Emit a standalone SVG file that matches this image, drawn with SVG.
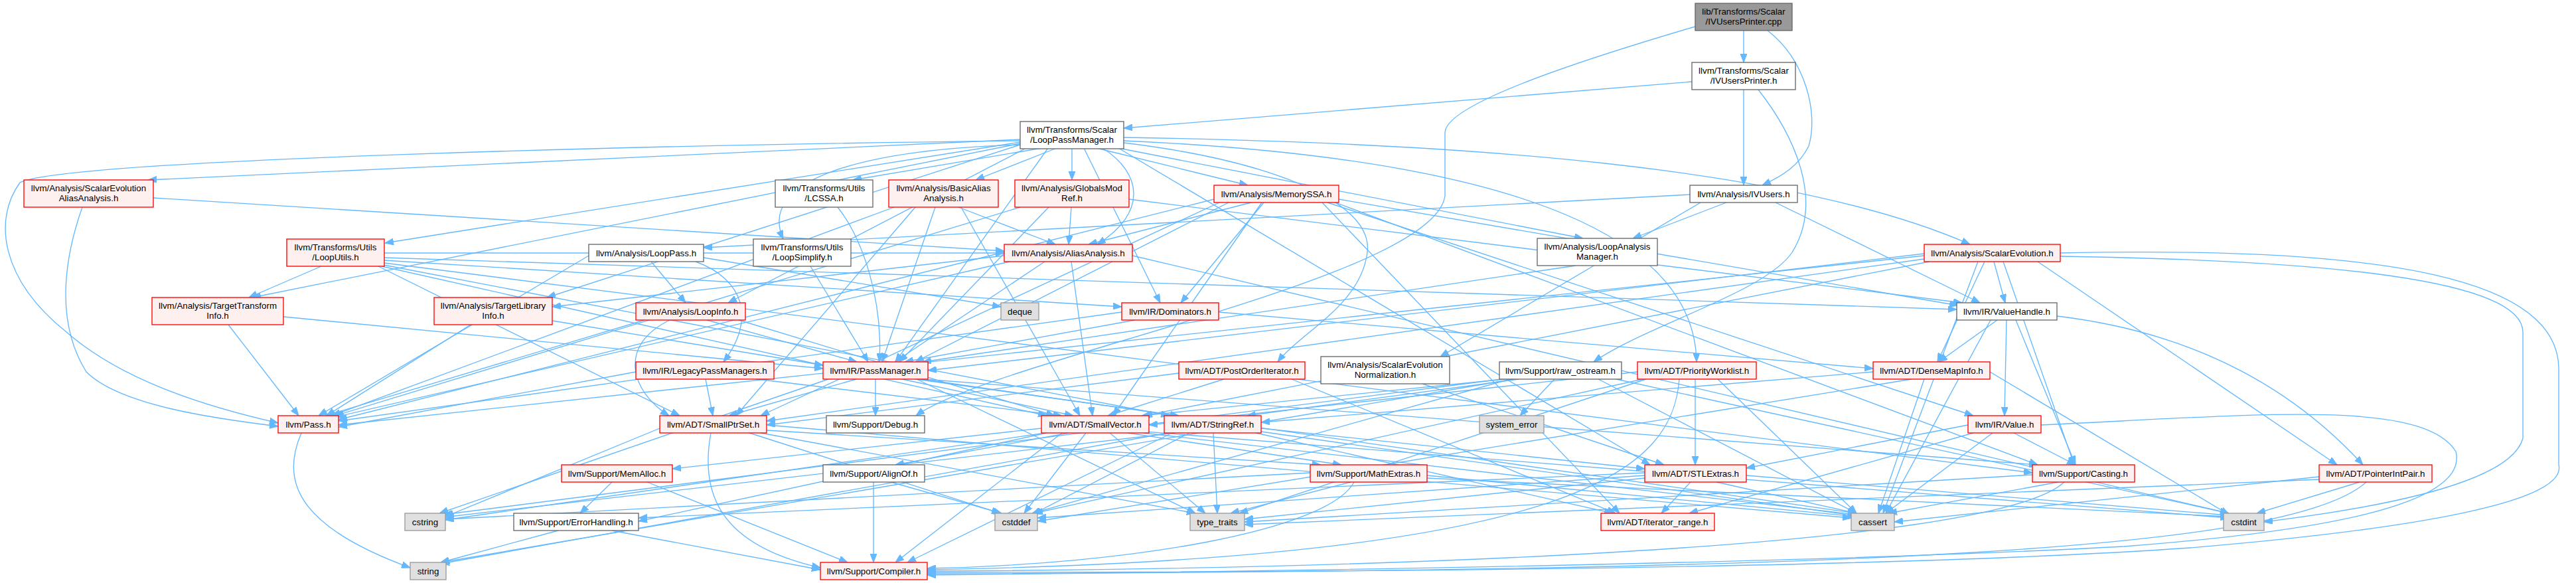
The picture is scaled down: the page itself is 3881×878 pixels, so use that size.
<svg xmlns="http://www.w3.org/2000/svg" width="3881" height="878" viewBox="0 0 3881 878">
<defs>
<style>
.e path{fill:none;stroke:#63b8ff;stroke-width:1.33;marker-end:url(#a)}
.w{fill:#ffffff;stroke:#666666;stroke-width:1.33}
.r{fill:#fff0f0;stroke:#ff0000;stroke-width:1.33}
.g{fill:#e0e0e0;stroke:#999999;stroke-width:1.33}
.root{fill:#999999;stroke:#666666;stroke-width:1.33}
text{font-family:"Liberation Sans",Arial,Helvetica,sans-serif;font-size:13.33px;text-anchor:middle;fill:#000000}
</style>
<marker id="a" markerUnits="userSpaceOnUse" markerWidth="13" markerHeight="10" refX="13" refY="5" orient="auto" viewBox="0 0 13 10"><path d="M0,0 L13,5 L0,10 z" fill="#63b8ff" stroke="#63b8ff"/></marker>
</defs>
<rect x="0" y="0" width="3881" height="878" fill="#ffffff"/>
<g id="edges" class="e">
<path d="M2627,46 L2627,94"/>
<path d="M2663,46 C2720,90 2740,170 2725,220 C2710,250 2685,265 2655,279"/>
<path d="M2554,40 C2350,100 2177,160 2177,200 L2177,295 C2160,420 1500,540 1380,626"/>
<path d="M2549,123 L1693,193"/>
<path d="M2627,135 L2627,279"/>
<path d="M2649,135 C2700,200 2750,300 2700,380 C2660,440 2480,490 2401,545"/>
<path d="M1537,210 L223,271"/>
<path d="M1570,223 L1285,271"/>
<path d="M1592,223 L1470,271"/>
<path d="M1615,223 L1615,271"/>
<path d="M1652,223 L1880,279"/>
<path d="M1685,223 L2385,359"/>
<path d="M1693,207 C2200,215 2700,250 2968,368"/>
<path d="M1661,223 C1720,260 1730,320 1653,368"/>
<path d="M1537,218 C1300,225 1140,270 1180,360"/>
<path d="M1537,214 L580,366"/>
<path d="M1537,216 L380,448"/>
<path d="M1537,218 L824,448"/>
<path d="M1546,223 L1097,456"/>
<path d="M1633,223 L1748,456"/>
<path d="M1579,223 L1349,545"/>
<path d="M1693,215 C1900,240 2070,300 2060,380 C2050,460 1960,500 1925,545"/>
<path d="M1693,212 C2100,230 2552,300 2556,545"/>
<path d="M1685,223 L2486,700"/>
<path d="M1537,212 C1000,218 100,240 30,275 C-10,330 0,420 100,500 C180,570 300,610 419,637"/>
<path d="M2601,305 L2460,359"/>
<path d="M2546,293 L1060,373"/>
<path d="M2562,305 L2170,537"/>
<path d="M2675,305 L2983,456"/>
<path d="M231,298 L1513,378"/>
<path d="M124,312 C100,380 80,480 130,560 C180,610 320,630 419,642"/>
<path d="M1262,312 C1300,360 1330,450 1325,545"/>
<path d="M1444,312 L1590,368"/>
<path d="M1347,312 L500,626"/>
<path d="M1409,312 L1329,545"/>
<path d="M1379,312 L1109,626"/>
<path d="M1448,312 L1627,626"/>
<path d="M1614,312 L1610,368"/>
<path d="M1537,312 L505,626"/>
<path d="M1580,312 L1355,545"/>
<path d="M1701,300 L2956,456"/>
<path d="M1885,305 L1640,368"/>
<path d="M1829,300 L510,632"/>
<path d="M1851,305 L1379,545"/>
<path d="M1904,305 L1779,456"/>
<path d="M2017,300 L2950,460"/>
<path d="M1837,305 L1146,626"/>
<path d="M1901,305 L1677,626"/>
<path d="M1992,305 L2440,773"/>
<path d="M2000,305 L2973,626"/>
<path d="M2012,305 L3070,700"/>
<path d="M2374,400 L1390,545"/>
<path d="M2899,385 L510,640"/>
<path d="M2899,382 L1398,558"/>
<path d="M3004,394 L3021,456"/>
<path d="M2990,394 L2919,545"/>
<path d="M3070,394 L3521,700"/>
<path d="M2899,390 L1155,634"/>
<path d="M2907,394 L1723,626"/>
<path d="M3018,394 L3125,700"/>
<path d="M3104,381 C3600,370 3860,420 3855,560 L3855,700 C3870,760 3600,800 3300,825 C2800,860 1800,862 1397,862"/>
<path d="M2980,394 L2837,773"/>
<path d="M3104,386 C3500,392 3800,420 3801,500 L3801,660 C3780,740 3500,775 3411,786"/>
<path d="M1513,385 L832,462"/>
<path d="M1574,394 L1348,545"/>
<path d="M1521,394 L505,628"/>
<path d="M1614,394 L1646,626"/>
<path d="M1706,385 L3358,773"/>
<path d="M981,394 L1033,456"/>
<path d="M1048,394 C1120,420 1140,480 1090,545"/>
<path d="M887,385 L480,626"/>
<path d="M1060,388 L1508,462"/>
<path d="M1221,401 L1308,545"/>
<path d="M484,401 L375,448"/>
<path d="M579,392 L1690,462"/>
<path d="M579,388 L2948,466"/>
<path d="M579,381 L1513,381"/>
<path d="M570,401 L1024,626"/>
<path d="M575,401 L1577,626"/>
<path d="M578,399 L1762,626"/>
<path d="M579,396 L3062,712"/>
<path d="M344,489 L450,626"/>
<path d="M427,477 L1240,555"/>
<path d="M709,489 L492,626"/>
<path d="M832,483 L1240,550"/>
<path d="M1009,482 C930,520 950,590 1008,626"/>
<path d="M1113,482 L1589,626"/>
<path d="M1065,482 L1291,545"/>
<path d="M971,482 L490,626"/>
<path d="M1690,470 L510,634"/>
<path d="M1710,482 L1363,545"/>
<path d="M1836,470 L2822,555"/>
<path d="M3009,482 L2921,545"/>
<path d="M3099,476 C3300,500 3450,580 3560,700"/>
<path d="M3023,482 L3020,626"/>
<path d="M3037,482 L3127,700"/>
<path d="M2999,482 L2841,773"/>
<path d="M958,560 L510,643"/>
<path d="M1063,571 L1074,626"/>
<path d="M1140,571 L1600,626"/>
<path d="M1290,571 L1098,626"/>
<path d="M1319,571 L1319,626"/>
<path d="M1359,571 L1617,626"/>
<path d="M1380,571 L1776,626"/>
<path d="M1392,571 L3070,700"/>
<path d="M1388,571 L2797,773"/>
<path d="M1248,571 L662,773"/>
<path d="M1381,571 L1801,773"/>
<path d="M1776,562 L1155,640"/>
<path d="M1844,571 L1669,626"/>
<path d="M1946,571 L2434,773"/>
<path d="M2143,578 L2507,700"/>
<path d="M2267,571 L1720,626"/>
<path d="M2288,571 L1879,626"/>
<path d="M2342,571 L2290,626"/>
<path d="M2408,571 L2797,773"/>
<path d="M2275,571 L1555,773"/>
<path d="M2435,571 L3358,773"/>
<path d="M2262,571 L668,775"/>
<path d="M2280,571 L664,847"/>
<path d="M2554,571 L2554,700"/>
<path d="M2467,560 L1731,640"/>
<path d="M2530,571 C2520,700 2400,840 1397,858"/>
<path d="M2588,571 L2797,773"/>
<path d="M2475,571 L1558,773"/>
<path d="M2480,571 L1867,773"/>
<path d="M2822,560 L1900,636"/>
<path d="M2899,571 L2830,773"/>
<path d="M2880,571 L1563,785"/>
<path d="M2998,560 L3358,775"/>
<path d="M1071,652 C1055,740 1080,820 1236,855"/>
<path d="M1146,652 L1801,773"/>
<path d="M1155,640 L2789,780"/>
<path d="M1129,652 L1507,773"/>
<path d="M994,645 L671,778"/>
<path d="M1155,648 L1990,700"/>
<path d="M1569,645 L1013,706"/>
<path d="M1610,652 L1349,700"/>
<path d="M1699,652 L2021,700"/>
<path d="M1577,652 L962,785"/>
<path d="M1600,652 L1349,847"/>
<path d="M1672,652 L1816,773"/>
<path d="M1723,652 L2797,775"/>
<path d="M1636,652 L1543,773"/>
<path d="M1575,652 L671,783"/>
<path d="M1725,650 L3358,780"/>
<path d="M1900,645 L2478,706"/>
<path d="M1892,652 L2430,773"/>
<path d="M1766,652 L1367,847"/>
<path d="M1900,650 L2797,777"/>
<path d="M1792,652 L1555,775"/>
<path d="M1770,652 L668,779"/>
<path d="M1760,652 L664,849"/>
<path d="M1828,652 L1834,773"/>
<path d="M2965,640 L2631,705"/>
<path d="M2973,652 L2545,773"/>
<path d="M3002,652 L2841,773"/>
<path d="M3034,652 L3127,700"/>
<path d="M3075,640 C3400,625 3650,600 3700,680 C3720,760 3500,800 3200,823 C2700,850 1800,862 1397,866"/>
<path d="M922,726 L874,773"/>
<path d="M975,726 L1277,847"/>
<path d="M1316,726 L1316,847"/>
<path d="M1342,726 L1509,773"/>
<path d="M2040,726 C2000,800 1700,850 1397,856"/>
<path d="M2150,716 L2797,778"/>
<path d="M2150,720 L3358,778"/>
<path d="M1974,712 L671,782"/>
<path d="M2035,726 L1854,773"/>
<path d="M2547,726 L2503,773"/>
<path d="M2478,712 L962,780"/>
<path d="M2586,726 L2797,773"/>
<path d="M2478,716 L1563,780"/>
<path d="M2631,716 L3358,776"/>
<path d="M2478,720 L1875,782"/>
<path d="M3110,726 C3000,830 2000,858 1397,860"/>
<path d="M3101,726 L2845,773"/>
<path d="M3062,715 L1875,786"/>
<path d="M3565,726 C3450,830 2800,860 1397,864"/>
<path d="M3494,718 L2854,786"/>
<path d="M3555,726 L3400,773"/>
<path d="M3494,722 L1875,790"/>
<path d="M922,799 L1236,858"/>
<path d="M841,799 L664,847"/>
<path d="M454,652 C425,720 440,790 618,855"/>
</g>
<g id="n-cpp"><rect class="root" x="2554" y="5" width="146" height="41"/><text x="2627" y="21.5">lib/Transforms/Scalar</text><text x="2627" y="36.5">/IVUsersPrinter.cpp</text></g>
<g id="n-ivph"><rect class="w" x="2549" y="94" width="156" height="41"/><text x="2627" y="110.5">llvm/Transforms/Scalar</text><text x="2627" y="125.5">/IVUsersPrinter.h</text></g>
<g id="n-lpm"><rect class="w" x="1537" y="183" width="156" height="41"/><text x="1615" y="199.5">llvm/Transforms/Scalar</text><text x="1615" y="214.5">/LoopPassManager.h</text></g>
<g id="n-ivusers"><rect class="w" x="2546" y="279" width="162" height="26"/><text x="2627" y="296.5">llvm/Analysis/IVUsers.h</text></g>
<g id="n-seaa"><rect class="r" x="36" y="271" width="195" height="41"/><text x="133.5" y="287.5">llvm/Analysis/ScalarEvolution</text><text x="133.5" y="302.5">AliasAnalysis.h</text></g>
<g id="n-lcssa"><rect class="w" x="1168" y="271" width="147" height="41"/><text x="1241.5" y="287.5">llvm/Transforms/Utils</text><text x="1241.5" y="302.5">/LCSSA.h</text></g>
<g id="n-basicaa"><rect class="r" x="1339" y="271" width="165" height="41"/><text x="1421.5" y="287.5">llvm/Analysis/BasicAlias</text><text x="1421.5" y="302.5">Analysis.h</text></g>
<g id="n-gmr"><rect class="r" x="1529" y="271" width="172" height="41"/><text x="1615" y="287.5">llvm/Analysis/GlobalsMod</text><text x="1615" y="302.5">Ref.h</text></g>
<g id="n-memssa"><rect class="r" x="1829" y="279" width="188" height="26"/><text x="1923" y="296.5">llvm/Analysis/MemorySSA.h</text></g>
<g id="n-lam"><rect class="w" x="2316" y="359" width="181" height="41"/><text x="2406.5" y="375.5">llvm/Analysis/LoopAnalysis</text><text x="2406.5" y="390.5">Manager.h</text></g>
<g id="n-se"><rect class="r" x="2899" y="368" width="205" height="26"/><text x="3001.5" y="385.5">llvm/Analysis/ScalarEvolution.h</text></g>
<g id="n-aa"><rect class="r" x="1513" y="368" width="193" height="26"/><text x="1609.5" y="385.5">llvm/Analysis/AliasAnalysis.h</text></g>
<g id="n-looppass"><rect class="w" x="887" y="368" width="173" height="26"/><text x="973.5" y="385.5">llvm/Analysis/LoopPass.h</text></g>
<g id="n-loopsimplify"><rect class="w" x="1135" y="360" width="147" height="41"/><text x="1208.5" y="376.5">llvm/Transforms/Utils</text><text x="1208.5" y="391.5">/LoopSimplify.h</text></g>
<g id="n-looputils"><rect class="r" x="432" y="360" width="147" height="41"/><text x="505.5" y="376.5">llvm/Transforms/Utils</text><text x="505.5" y="391.5">/LoopUtils.h</text></g>
<g id="n-tti"><rect class="r" x="229" y="448" width="198" height="41"/><text x="328" y="464.5">llvm/Analysis/TargetTransform</text><text x="328" y="479.5">Info.h</text></g>
<g id="n-tli"><rect class="r" x="654" y="448" width="178" height="41"/><text x="743" y="464.5">llvm/Analysis/TargetLibrary</text><text x="743" y="479.5">Info.h</text></g>
<g id="n-loopinfo"><rect class="r" x="958" y="456" width="165" height="26"/><text x="1040.5" y="473.5">llvm/Analysis/LoopInfo.h</text></g>
<g id="n-deque"><rect class="g" x="1508" y="456" width="57" height="26"/><text x="1536.5" y="473.5">deque</text></g>
<g id="n-dom"><rect class="r" x="1690" y="456" width="146" height="26"/><text x="1763" y="473.5">llvm/IR/Dominators.h</text></g>
<g id="n-vh"><rect class="w" x="2948" y="456" width="151" height="26"/><text x="3023.5" y="473.5">llvm/IR/ValueHandle.h</text></g>
<g id="n-legacy"><rect class="r" x="958" y="545" width="208" height="26"/><text x="1062" y="562.5">llvm/IR/LegacyPassManagers.h</text></g>
<g id="n-pm"><rect class="r" x="1240" y="545" width="158" height="26"/><text x="1319" y="562.5">llvm/IR/PassManager.h</text></g>
<g id="n-poi"><rect class="r" x="1776" y="545" width="190" height="26"/><text x="1871" y="562.5">llvm/ADT/PostOrderIterator.h</text></g>
<g id="n-sen"><rect class="w" x="1990" y="537" width="194" height="41"/><text x="2087" y="553.5">llvm/Analysis/ScalarEvolution</text><text x="2087" y="568.5">Normalization.h</text></g>
<g id="n-ros"><rect class="w" x="2259" y="545" width="184" height="26"/><text x="2351" y="562.5">llvm/Support/raw_ostream.h</text></g>
<g id="n-pw"><rect class="r" x="2467" y="545" width="179" height="26"/><text x="2556.5" y="562.5">llvm/ADT/PriorityWorklist.h</text></g>
<g id="n-dmi"><rect class="r" x="2822" y="545" width="176" height="26"/><text x="2910" y="562.5">llvm/ADT/DenseMapInfo.h</text></g>
<g id="n-pass"><rect class="r" x="419" y="626" width="91" height="26"/><text x="464.5" y="643.5">llvm/Pass.h</text></g>
<g id="n-spset"><rect class="r" x="994" y="626" width="161" height="26"/><text x="1074.5" y="643.5">llvm/ADT/SmallPtrSet.h</text></g>
<g id="n-debug"><rect class="w" x="1245" y="626" width="148" height="26"/><text x="1319" y="643.5">llvm/Support/Debug.h</text></g>
<g id="n-sv"><rect class="r" x="1569" y="626" width="162" height="26"/><text x="1650" y="643.5">llvm/ADT/SmallVector.h</text></g>
<g id="n-sr"><rect class="r" x="1754" y="626" width="146" height="26"/><text x="1827" y="643.5">llvm/ADT/StringRef.h</text></g>
<g id="n-syserr"><rect class="g" x="2229" y="626" width="97" height="26"/><text x="2277.5" y="643.5">system_error</text></g>
<g id="n-value"><rect class="r" x="2965" y="626" width="110" height="26"/><text x="3020" y="643.5">llvm/IR/Value.h</text></g>
<g id="n-memalloc"><rect class="r" x="846" y="700" width="167" height="26"/><text x="929.5" y="717.5">llvm/Support/MemAlloc.h</text></g>
<g id="n-alignof"><rect class="w" x="1240" y="700" width="153" height="26"/><text x="1316.5" y="717.5">llvm/Support/AlignOf.h</text></g>
<g id="n-mathextras"><rect class="r" x="1974" y="700" width="176" height="26"/><text x="2062" y="717.5">llvm/Support/MathExtras.h</text></g>
<g id="n-stlextras"><rect class="r" x="2478" y="700" width="153" height="26"/><text x="2554.5" y="717.5">llvm/ADT/STLExtras.h</text></g>
<g id="n-casting"><rect class="r" x="3062" y="700" width="154" height="26"/><text x="3139" y="717.5">llvm/Support/Casting.h</text></g>
<g id="n-pip"><rect class="r" x="3494" y="700" width="170" height="26"/><text x="3579" y="717.5">llvm/ADT/PointerIntPair.h</text></g>
<g id="n-cstring"><rect class="g" x="610" y="773" width="61" height="26"/><text x="640.5" y="790.5">cstring</text></g>
<g id="n-eh"><rect class="w" x="774" y="773" width="188" height="26"/><text x="868" y="790.5">llvm/Support/ErrorHandling.h</text></g>
<g id="n-cstddef"><rect class="g" x="1499" y="773" width="64" height="26"/><text x="1531" y="790.5">cstddef</text></g>
<g id="n-tt"><rect class="g" x="1793" y="773" width="82" height="26"/><text x="1834" y="790.5">type_traits</text></g>
<g id="n-ir"><rect class="r" x="2412" y="773" width="171" height="26"/><text x="2497.5" y="790.5">llvm/ADT/iterator_range.h</text></g>
<g id="n-cassert"><rect class="g" x="2789" y="773" width="65" height="26"/><text x="2821.5" y="790.5">cassert</text></g>
<g id="n-cstdint"><rect class="g" x="3350" y="773" width="61" height="26"/><text x="3380.5" y="790.5">cstdint</text></g>
<g id="n-string"><rect class="g" x="618" y="847" width="54" height="26"/><text x="645" y="864.5">string</text></g>
<g id="n-compiler"><rect class="r" x="1236" y="847" width="161" height="26"/><text x="1316.5" y="864.5">llvm/Support/Compiler.h</text></g>
</svg>
